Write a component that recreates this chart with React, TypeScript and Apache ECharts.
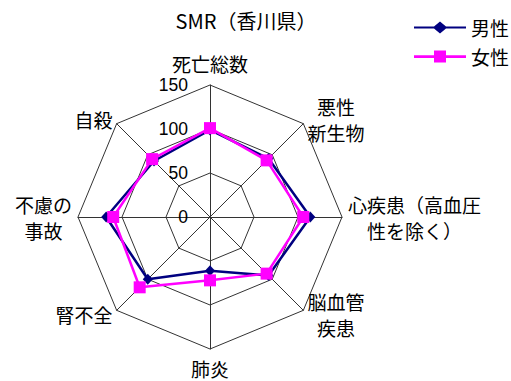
import { useEffect, useRef } from 'react';
import * as echarts from 'echarts';

// Data (clockwise from top)
const categories = [
  '死亡総数',
  '悪性\n新生物',
  '心疾患（高血圧\n性を除く）',
  '脳血管\n疾患',
  '肺炎',
  '腎不全',
  '不慮の\n事故',
  '自殺',
];
const maleValues = [99, 94, 114, 94, 61, 100, 118, 90];
const femaleValues = [101, 91, 106, 91, 72, 113, 110, 93];
const seriesNames = ['男性', '女性'];
const axisMin = 0;
const axisMax = 150;
const titleText = 'SMR（香川県）';

const FONT = '"Noto Sans CJK JP", "Noto Sans", sans-serif';
const NUM_FONT = '"Liberation Sans", Arial, sans-serif';
// ECharts radar goes counter-clockwise; reorder to draw clockwise
const order = [0, 7, 6, 5, 4, 3, 2, 1];

const maleIcon = 'path://M0,5H20L26,0L32,5H52V7H32L26,12L20,7H0Z';
const femaleIcon = 'path://M0,4.8H20V0H32V4.8H52V7.4H32V12H20V7.4H0Z';

export default function App() {
  const ref = useRef<HTMLDivElement>(null);
  useEffect(() => {
    const chart = echarts.init(ref.current!, null, { renderer: 'svg' });
    chart.setOption({
      animation: false,
      backgroundColor: '#fff',
      title: {
        text: titleText,
        left: 241,
        top: 5,
        textAlign: 'center',
        textStyle: { fontFamily: FONT, fontSize: 20, fontWeight: 'normal', color: '#000' },
      },
      legend: {
        orient: 'vertical',
        left: 409,
        top: 13,
        itemWidth: 52,
        itemHeight: 12,
        itemGap: 10,
        itemStyle: { borderWidth: 0 },
        textStyle: { fontFamily: FONT, fontSize: 19, color: '#000' },
        data: [
          { name: seriesNames[0], icon: maleIcon },
          { name: seriesNames[1], icon: femaleIcon },
        ],
      },
      radar: {
        center: [210, 217],
        radius: 132,
        shape: 'polygon',
        splitNumber: 3,
        nameGap: 6,
        axisName: {
          color: '#000',
          fontFamily: FONT,
          fontSize: 19,
          lineHeight: 26,
          formatter: (name: string) =>
            name
              .split('\n')
              .map((l) => `{c|${l}}`)
              .join('\n'),
          rich: {
            c: { align: 'center', fontFamily: FONT, fontSize: 19, lineHeight: 26, color: '#000' },
          },
        },
        axisLine: { lineStyle: { color: '#333', width: 1 } },
        splitLine: { lineStyle: { color: '#333', width: 1 } },
        splitArea: { show: false },
        axisTick: { show: false },
        axisLabel: {
          show: false,
          color: '#000',
          fontFamily: NUM_FONT,
          fontSize: 17.5,
          lineHeight: 14,
          align: 'right',
          margin: 22,
        },
        indicator: order.map((i, k) => ({
          name: categories[i],
          min: axisMin,
          max: axisMax,
          ...(k === 0 ? { axisLabel: { show: true } } : {}),
        })),
      },
      series: [
        {
          type: 'radar',
          data: [
            {
              name: seriesNames[0],
              value: order.map((i) => maleValues[i]),
              symbol: 'diamond',
              symbolSize: [10, 11],
              lineStyle: { color: '#000080', width: 2.5 },
              itemStyle: { color: '#000080' },
            },
          ],
        },
        {
          type: 'radar',
          data: [
            {
              name: seriesNames[1],
              value: order.map((i) => femaleValues[i]),
              symbol: 'rect',
              symbolSize: 12,
              lineStyle: { color: '#FF00FF', width: 2.5 },
              itemStyle: { color: '#FF00FF' },
            },
          ],
        },
      ],
    });
    return () => chart.dispose();
  }, []);
  return (
    <div
      ref={ref}
      style={{ position: 'fixed', left: 0, top: 0, width: 511, height: 381, background: '#fff' }}
    />
  );
}
